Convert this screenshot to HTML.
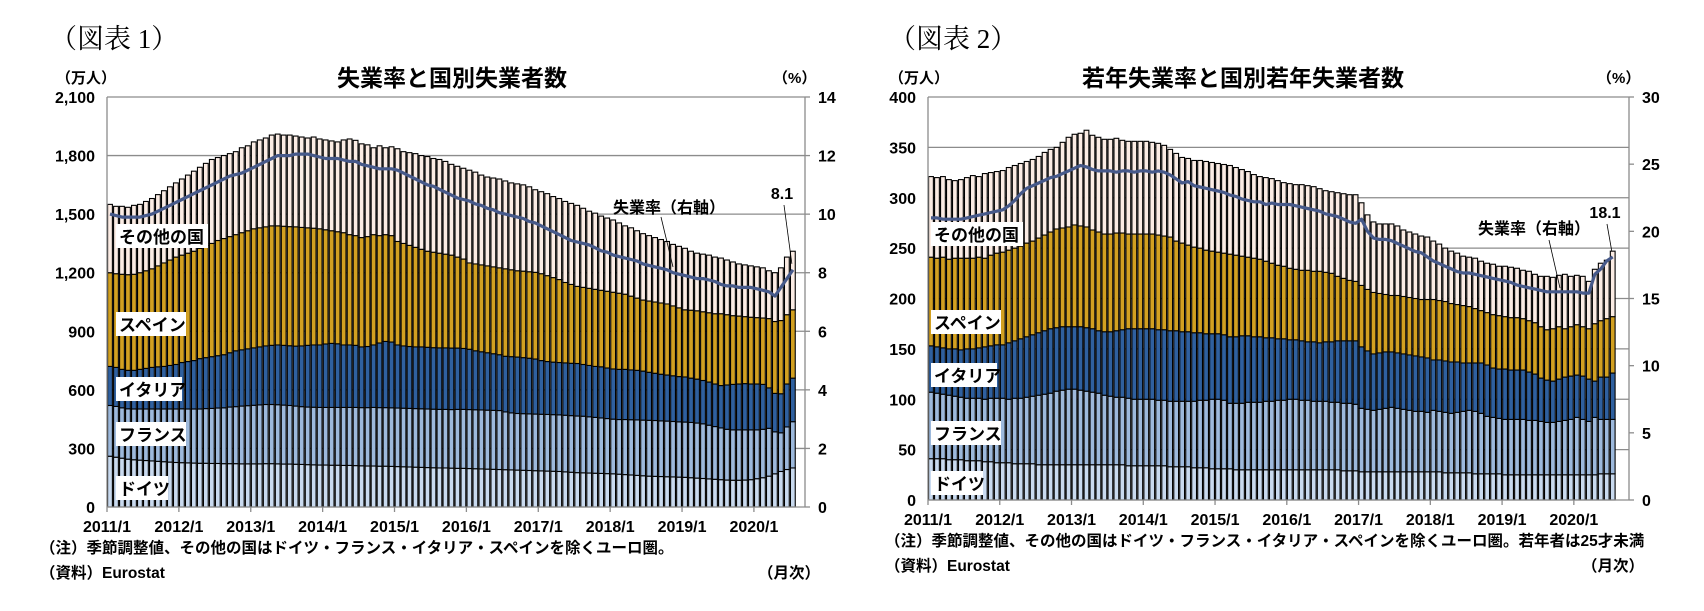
<!DOCTYPE html>
<html><head><meta charset="utf-8">
<style>
html,body{margin:0;padding:0;background:#fff;}
svg{display:block;}
text{font-family:"Liberation Sans","Noto Sans CJK JP",sans-serif;fill:#000;}
.serif{font-family:"Liberation Serif","Noto Serif CJK SC",serif;}
</style></head>
<body>
<svg id="root" width="1704" height="611" viewBox="0 0 1704 611" xmlns="http://www.w3.org/2000/svg"></svg>
<script>
// ===== Chart 1 data (万人, %) =====
const xTickLabels = ['2011/1','2012/1','2013/1','2014/1','2015/1','2016/1','2017/1','2018/1','2019/1','2020/1'];
const leftTicks1 = ['0','300','600','900','1,200','1,500','1,800','2,100'];
const rightTicks1 = ['0','2','4','6','8','10','12','14'];
const de1 = [260,255,250,245,242,240,238,236,234,232,230,228,
227,226,225,224,224,223,223,222,222,222,221,221,
221,221,222,222,221,220,220,219,218,217,216,215,
215,214,214,213,213,212,211,210,210,209,209,208,
207,206,205,204,203,202,201,200,200,199,198,198,
197,196,195,194,193,192,191,190,189,188,187,186,
185,184,183,182,180,178,176,175,174,173,172,171,
170,168,166,164,162,160,158,157,156,155,154,153,
152,150,148,146,144,142,140,138,137,137,138,140,
145,150,158,170,182,192,200];
const fr1 = [260,260,258,258,260,262,264,266,268,270,272,274,
276,276,277,278,280,282,284,286,290,292,296,298,
300,302,303,303,303,302,300,298,296,295,295,295,
295,296,296,297,297,298,298,299,300,300,300,300,
300,300,300,300,300,300,300,300,300,300,302,302,
302,302,302,302,302,302,296,292,290,290,290,290,
290,290,290,290,290,290,290,290,288,286,284,282,
280,280,282,283,284,285,286,286,285,285,284,283,
283,283,282,280,275,270,265,260,258,258,257,255,
250,248,245,215,198,218,237];
const it1 = [200,200,197,197,198,203,208,213,216,218,223,228,
237,243,248,258,261,265,268,272,278,286,288,291,
294,297,300,303,306,306,306,307,311,316,319,320,
325,328,326,320,320,318,311,313,320,331,339,337,
323,319,317,316,317,316,315,315,315,315,314,312,
309,302,298,294,290,286,285,288,289,287,285,282,
275,271,269,268,268,268,269,265,263,261,262,259,
257,257,257,255,254,251,246,242,239,236,234,232,
231,227,225,222,221,218,217,227,233,235,237,235,
235,230,207,197,200,220,223];
const es1 = [480,480,487,490,492,495,500,505,517,530,540,550,
550,555,560,565,575,580,590,595,595,595,600,605,
610,610,610,612,610,610,610,611,607,602,598,595,
585,577,574,575,565,562,560,563,565,550,547,545,
530,525,518,510,500,492,489,485,480,476,466,458,
442,445,445,445,445,445,448,445,442,443,443,444,
445,440,433,425,412,404,395,395,395,395,392,393,
393,390,385,378,370,364,365,365,365,364,358,352,
344,348,350,352,355,360,368,360,352,348,343,342,
340,340,355,368,375,355,350];
const ot1 = [350,345,348,345,353,350,355,360,365,370,375,380,
390,400,410,415,420,430,425,425,425,425,435,435,
445,450,455,465,470,467,469,465,463,460,467,460,
460,460,460,475,490,488,480,470,445,460,445,455,
475,470,475,480,480,485,480,480,475,465,465,465,
475,470,460,455,455,455,450,445,445,442,435,423,
420,420,415,415,415,415,415,405,395,390,380,375,
370,360,350,350,345,340,335,330,325,320,315,315,
315,302,295,295,295,290,285,280,275,267,265,263,
260,257,245,250,270,295,300];
const rate1 = [10.0,9.95,9.9,9.9,9.9,9.9,9.95,10.0,10.1,10.2,10.3,10.4,
10.5,10.6,10.7,10.8,10.9,11.0,11.1,11.2,11.3,11.35,11.4,11.5,
11.6,11.7,11.8,11.9,12.0,12.0,12.0,12.05,12.05,12.05,12.0,11.95,
11.9,11.9,11.9,11.85,11.8,11.8,11.7,11.65,11.6,11.55,11.55,11.55,
11.5,11.4,11.3,11.2,11.1,11.0,10.95,10.85,10.75,10.65,10.55,10.5,
10.45,10.35,10.3,10.2,10.15,10.05,10.0,9.95,9.9,9.85,9.75,9.7,
9.6,9.5,9.4,9.3,9.2,9.1,9.05,9.0,8.95,8.85,8.75,8.7,
8.6,8.55,8.5,8.45,8.4,8.3,8.25,8.2,8.15,8.1,8.0,7.95,
7.9,7.85,7.8,7.8,7.75,7.7,7.6,7.55,7.55,7.5,7.5,7.5,
7.45,7.4,7.35,7.2,7.5,7.8,8.1];

// ===== Chart 2 data (youth) =====
const leftTicks2 = ['0','50','100','150','200','250','300','350','400'];
const rightTicks2 = ['0','5','10','15','20','25','30'];
const de2 = [41,41,41,40,40,40,39,39,39,38,38,37,
37,37,36,36,36,36,35,35,35,35,35,35,
35,35,35,35,35,35,35,35,35,34,34,34,
34,34,34,34,33,33,33,33,32,32,32,31,
31,31,31,30,30,30,30,30,30,30,30,30,
30,30,30,30,30,30,30,30,30,29,29,29,
28,28,28,28,28,28,28,28,28,28,28,28,
28,28,27,27,27,27,27,26,26,26,26,26,
25,25,25,25,25,25,25,25,25,25,25,25,
25,25,25,25,26,26,26];
const fr2 = [66,65,64,64,63,62,62,62,62,62,63,64,
64,63,65,65,66,67,69,70,71,73,74,75,
75,74,73,72,71,69,68,67,67,67,66,66,
66,66,65,65,65,65,65,65,66,67,67,69,
69,68,65,66,66,67,67,67,68,68,69,69,
70,70,69,69,68,68,68,67,67,67,67,66,
63,62,61,62,63,64,63,62,61,60,60,59,
61,60,60,59,60,61,62,62,60,57,56,55,
55,55,55,55,54,54,53,52,52,53,54,55,
57,55,53,57,54,54,54];
const it2 = [46,46,46,46,47,47,49,49,50,52,52,53,
53,56,57,59,60,61,62,63,64,63,63,62,
62,63,63,63,62,63,64,66,67,69,70,70,
70,70,70,70,70,70,69,69,68,67,66,65,
65,65,66,66,67,66,65,65,63,63,61,61,
59,59,59,58,59,58,59,60,61,62,62,63,
61,58,56,56,56,55,55,55,55,55,54,54,
50,51,51,51,50,48,47,48,50,51,49,49,
50,49,49,49,48,46,43,42,41,42,43,43,
42,43,42,36,42,42,46];
const es2 = [88,88,90,89,90,91,90,90,90,88,90,91,
92,92,92,92,93,93,94,95,96,98,98,99,
101,100,100,98,98,97,97,97,96,94,94,94,
94,94,94,93,93,89,88,86,85,84,83,82,
81,81,82,81,79,78,78,77,76,74,73,72,
71,70,70,71,70,71,69,68,64,62,60,59,
61,61,61,59,57,56,57,57,57,57,57,58,
60,59,59,58,57,57,56,54,52,52,53,53,
52,52,52,51,51,51,51,50,52,52,48,49,
50,49,50,57,56,58,56];
const ot2 = [80,80,80,79,77,78,80,82,80,84,82,81,
81,82,82,82,81,81,81,82,82,81,85,89,
90,92,96,94,94,94,94,94,92,92,92,92,
92,91,91,90,87,87,85,86,86,87,88,88,
88,88,88,87,86,85,83,82,83,84,84,83,
84,84,85,84,84,82,81,81,83,84,85,86,
82,74,70,69,70,71,69,66,65,64,63,62,
58,56,53,52,51,49,49,50,49,49,50,49,
50,50,49,48,49,48,50,53,51,51,54,50,
49,50,47,54,57,58,65];
const rate2 = [21.0,21.0,20.9,20.9,20.9,20.9,21.0,21.1,21.2,21.3,21.4,21.5,
21.6,21.9,22.3,22.8,23.2,23.4,23.6,23.8,24.0,24.1,24.3,24.5,
24.7,24.9,24.8,24.6,24.5,24.5,24.5,24.4,24.5,24.5,24.4,24.5,
24.5,24.4,24.5,24.4,24.2,23.9,23.6,23.7,23.4,23.3,23.2,23.1,
23.0,22.9,22.7,22.6,22.4,22.3,22.2,22.2,22.0,22.1,22.0,22.0,
22.0,21.9,21.8,21.7,21.6,21.5,21.3,21.2,21.1,20.9,20.7,20.6,
20.9,20.0,19.5,19.4,19.4,19.3,19.1,18.9,18.7,18.5,18.4,18.1,
17.8,17.6,17.4,17.2,17.0,16.9,16.9,16.8,16.7,16.6,16.5,16.4,
16.3,16.2,16.0,15.9,15.8,15.7,15.6,15.5,15.5,15.5,15.5,15.5,
15.5,15.4,15.4,16.8,17.2,17.8,18.1];

const seriesNames = ['germany','france','italy','spain','others'];
const seriesLabels = ['ドイツ','フランス','イタリア','スペイン','その他の国'];

const NS = 'http://www.w3.org/2000/svg';
const root = document.getElementById('root');
const COLORS = ['#c9daef','#9db9dc','#2f609f','#d2a021','#fbece4'];

function mk(tag, attrs, parent, txt) {
  const e = document.createElementNS(NS, tag);
  for (const k in attrs) e.setAttribute(k, attrs[k]);
  if (txt !== undefined) e.textContent = txt;
  (parent || root).appendChild(e);
  return e;
}

function drawChart(cfg) {
  const g = mk('g', {});
  
  
  const n = cfg.series[0].length;
  const yL = v => cfg.y0 - v / cfg.lmax * (cfg.y0 - cfg.yTop);
  const yR = v => cfg.y0 - v / cfg.rmax * (cfg.y0 - cfg.yTop);
  const xB = i => cfg.x0 + i * cfg.step;

  cfg.leftTicks.forEach((t, k) => {
    const v = k * cfg.lmax / (cfg.leftTicks.length - 1);
    const y = yL(v);
    if (k > 0) {
      const gl = mk('line', {x1: cfg.x0, x2: cfg.x1, y1: y, y2: y, stroke: '#8c8c8c', 'stroke-width': 1.3}, g);
      
      
    }
    const lt = mk('text', {x: cfg.x0 - 12, y: y + 6, 'text-anchor': 'end', 'font-size': 16, 'font-weight': 'bold'}, g, t);
    
    
  });
  cfg.rightTicks.forEach((t, k) => {
    const v = k * cfg.rmax / (cfg.rightTicks.length - 1);
    const y = yR(v);
    mk('line', {x1: cfg.x1, x2: cfg.x1 + 5, y1: y, y2: y, stroke: '#8c8c8c', 'stroke-width': 1.3}, g);
    const rt = mk('text', {x: cfg.x1 + 13, y: y + 6, 'font-size': 16, 'font-weight': 'bold'}, g, t);
    
    
  });

  const bw = cfg.step * 0.8;
  for (let i = 0; i < n; i++) {
    let base = 0;
    for (let s = 0; s < cfg.series.length; s++) {
      const v = cfg.series[s][i];
      const yt = yL(base + v), yb = yL(base);
      const r = mk('rect', {x: xB(i) + cfg.step * 0.1, y: yt, width: bw, height: Math.max(0, yb - yt), fill: COLORS[s], stroke: '#000', 'stroke-width': 1.1}, g);
      
      
      base += v;
    }
  }

  const ax = mk('line', {x1: cfg.x0, x2: cfg.x0, y1: cfg.yTop, y2: cfg.y0, stroke: '#8c8c8c', 'stroke-width': 1.3}, g);
  
  
  const ax2 = mk('line', {x1: cfg.x1, x2: cfg.x1, y1: cfg.yTop, y2: cfg.y0, stroke: '#8c8c8c', 'stroke-width': 1.3}, g);
  
  
  const ax3 = mk('line', {x1: cfg.x0, x2: cfg.x1, y1: cfg.y0, y2: cfg.y0, stroke: '#8c8c8c', 'stroke-width': 1.3}, g);
  
  

  xTickLabels.forEach((t, k) => {
    const x = xB(k * 12);
    mk('line', {x1: x, x2: x, y1: cfg.y0, y2: cfg.y0 + 5, stroke: '#8c8c8c', 'stroke-width': 1.3}, g);
    const xt = mk('text', {x: x, y: cfg.y0 + 25, 'text-anchor': 'middle', 'font-size': 16, 'font-weight': 'bold'}, g, t);
    
    
  });

  const pts = cfg.rate.map((v, i) => (xB(i) + cfg.step / 2).toFixed(1) + ',' + yR(v).toFixed(1)).join(' ');
  const pl = mk('polyline', {points: pts, fill: 'none', stroke: '#46598a', 'stroke-width': 3.2, 'stroke-linejoin': 'round'}, g);
  
  

  cfg.labelPos.forEach((p, s) => {
    const lb = mk('rect', {x: p[0], y: p[1], width: p[2], height: 24, fill: '#fff'}, g);
    
    
    const lt = mk('text', {x: p[0] + 3, y: p[1] + 19, 'font-size': 17, 'font-weight': 'bold'}, g, seriesLabels[s]);
    
    
  });

  const last = n - 1;
  const lx = xB(last) + cfg.step / 2, ly = yR(cfg.rate[last]);
  const a1 = mk('text', {x: cfg.annRate[0], y: cfg.annRate[1], 'font-size': 16, 'font-weight': 'bold'}, g, '失業率（右軸）');
  
  
  mk('line', {x1: cfg.annRate[2], y1: cfg.annRate[3], x2: cfg.annRate[4], y2: cfg.annRate[5], stroke: '#000', 'stroke-width': 0.8}, g);
  const a2 = mk('text', {x: cfg.annVal[0], y: cfg.annVal[1], 'font-size': 16, 'font-weight': 'bold', 'text-anchor': 'middle'}, g, cfg.rate[last].toFixed(1));
  
  
  mk('line', {x1: cfg.annVal[0] + 2, y1: cfg.annVal[1] + 6, x2: lx - 1, y2: ly - 6, stroke: '#000', 'stroke-width': 0.8}, g);

  const tt = mk('text', {x: cfg.titleX, y: 86, 'text-anchor': 'middle', 'font-size': 23, 'font-weight': 'bold'}, g, cfg.title);
  
  
  const fg = mk('text', {x: cfg.figX, y: 48, 'font-size': 27, class: 'serif'}, g, cfg.fig);
  
  
  const u1 = mk('text', {x: cfg.unitX, y: 83, 'font-size': 15, 'font-weight': 'bold'}, g, '（万人）');
  
  
  const u2 = mk('text', {x: cfg.x1 - 32, y: 83, 'font-size': 15, 'font-weight': 'bold'}, g, '（%）');
  
  
  const n1 = mk('text', {x: cfg.noteX, y: cfg.noteY, 'font-size': 15.5, 'font-weight': 'bold'}, g, cfg.note);
  
  
  const n2 = mk('text', {x: cfg.noteX, y: cfg.noteY + 25, 'font-size': 15.5, 'font-weight': 'bold'}, g, '（資料）Eurostat');
  
  
  const mo = mk('text', {x: cfg.x1 + 15, y: cfg.noteY + 25, 'font-size': 15.5, 'font-weight': 'bold', 'text-anchor': 'end'}, g, '（月次）');
  
  
}

drawChart({
  name: 'chart-unemployment', x0: 107, x1: 805, y0: 507, yTop: 97, step: 5.99,
  lmax: 2100, rmax: 14, leftTicks: leftTicks1, rightTicks: rightTicks1,
  series: [de1, fr1, it1, es1, ot1], rate: rate1,
  labelPos: [[116,476,52],[116,422,70],[116,377,66],[116,312,70],[116,224,92]],
  annRate: [613, 213, 661, 217, 673, 267], annVal: [782, 199],
  title: '失業率と国別失業者数', titleX: 452, fig: '（図表 1）', figX: 50, unitX: 56,
  note: '（注）季節調整値、その他の国はドイツ・フランス・イタリア・スペインを除くユーロ圏。', noteX: 40, noteY: 553
});
drawChart({
  name: 'chart-youth-unemployment', x0: 928, x1: 1629, y0: 500, yTop: 97, step: 5.98,
  lmax: 400, rmax: 30, leftTicks: leftTicks2, rightTicks: rightTicks2,
  series: [de2, fr2, it2, es2, ot2], rate: rate2,
  labelPos: [[931,471,52],[931,421,70],[931,363,66],[931,310,70],[931,222,92]],
  annRate: [1478, 234, 1549, 240, 1560, 288], annVal: [1605, 218],
  title: '若年失業率と国別若年失業者数', titleX: 1243, fig: '（図表 2）', figX: 889, unitX: 889,
  note: '（注）季節調整値、その他の国はドイツ・フランス・イタリア・スペインを除くユーロ圏。若年者は25才未満', noteX: 885, noteY: 546
});
</script>
</body></html>
